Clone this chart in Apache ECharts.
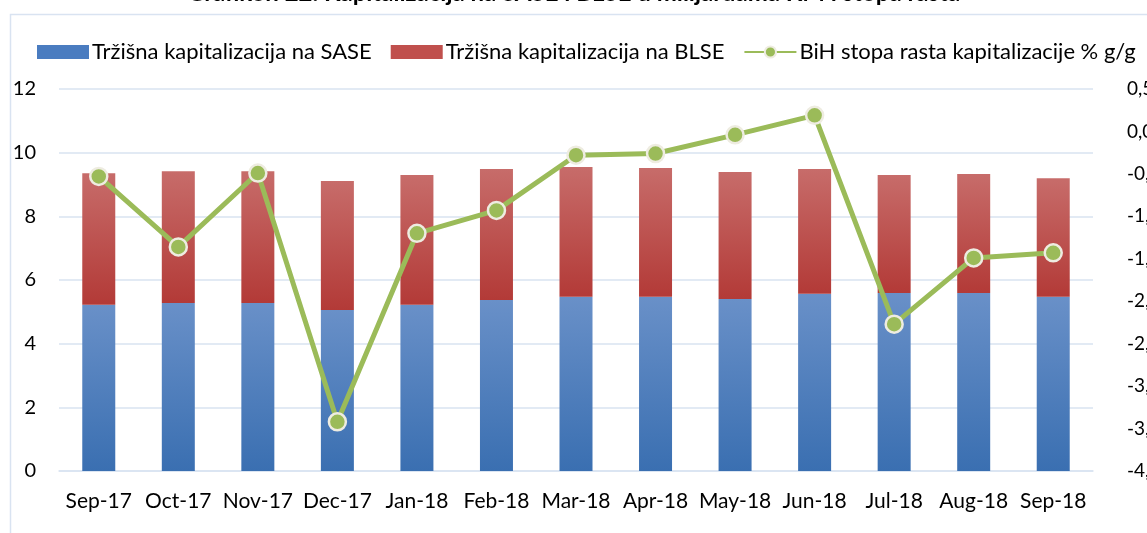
<!DOCTYPE html>
<html>
<head>
<meta charset="utf-8">
<script src="https://cdn.jsdelivr.net/npm/echarts@6/dist/echarts.min.js"></script>
<style>
html,body{margin:0;padding:0;background:#fff;}
#c{width:1147px;height:533px;}
</style>
</head>
<body>
<div id="c"></div>
<script>
const categories = ['Sep-17','Oct-17','Nov-17','Dec-17','Jan-18','Feb-18','Mar-18','Apr-18','May-18','Jun-18','Jul-18','Aug-18','Sep-18'];
const sase = [5.22,5.28,5.28,5.06,5.22,5.37,5.47,5.47,5.40,5.57,5.59,5.59,5.47];
const blse = [4.13,4.14,4.14,4.05,4.08,4.12,4.08,4.05,3.99,3.92,3.71,3.74,3.73];
const growth = [-0.53,-1.36,-0.49,-3.42,-1.20,-0.93,-0.28,-0.26,-0.04,0.19,-2.27,-1.49,-1.43];
const seriesNames = ['Tržišna kapitalizacija na SASE','Tržišna kapitalizacija na BLSE','BiH stopa rasta kapitalizacije % g/g'];
const titleText = 'Grafikon 22. Kapitalizacija na SASE i BLSE u milijardama KM i stopa rasta';

const FONT = 'Lato, "Open Sans", sans-serif';
const chart = echarts.init(document.getElementById('c'));
const grad = (top, bottom) => new echarts.graphic.LinearGradient(0,0,0,1,[{offset:0,color:top},{offset:1,color:bottom}]);

chart.setOption({
  animation:false,
  backgroundColor:'#ffffff',
  title:{
    text:titleText,
    left:'center', top:-24,
    textStyle:{fontFamily:FONT, fontSize:24, fontWeight:'bold', color:'#000'}
  },
  graphic:[{
    type:'rect', left:8, top:12, z:-1,
    shape:{width:1160, height:540},
    style:{fill:'none', stroke:'#d9e3f1', lineWidth:1.5}
  }],
  legend:{
    top:36, left:32,
    itemWidth:52, itemHeight:14, itemGap:19,
    textStyle:{fontFamily:FONT, fontSize:22, color:'#000', padding:[0,0,0,-2]},
    data:[
      {name:seriesNames[0], icon:'rect', itemStyle:{color:'#4a7cc0'}},
      {name:seriesNames[1], icon:'rect', itemStyle:{color:'#c0504d'}},
      {name:seriesNames[2]}
    ]
  },
  grid:{left:59, right:54, top:89, bottom:62, containLabel:false, outerBoundsMode:'none'},
  xAxis:{
    type:'category', data:categories,
    axisLine:{lineStyle:{color:'#d9e3f1', width:1.5}},
    axisTick:{show:false},
    axisLabel:{fontFamily:FONT, fontSize:21, color:'#000', margin:20, interval:0}
  },
  yAxis:[
    {
      type:'value', min:0, max:12, interval:2,
      axisLine:{show:false}, axisTick:{show:false},
      splitLine:{lineStyle:{color:'#d9e3f1', width:1.5}},
      axisLabel:{fontFamily:FONT, fontSize:20, color:'#000', margin:23}
    },
    {
      type:'value', min:-4, max:0.5, interval:0.5,
      axisLine:{show:false}, axisTick:{show:false}, splitLine:{show:false},
      axisLabel:{fontFamily:FONT, fontSize:19, color:'#000', margin:34, align:'left',
        formatter:v=>v.toFixed(1).replace('.',',')}
    }
  ],
  series:[
    {
      name:seriesNames[0], type:'bar', stack:'cap', data:sase, barWidth:33,
      itemStyle:{color:grad('#6990c8','#3a6fb1')}
    },
    {
      name:seriesNames[1], type:'bar', stack:'cap', data:blse, barWidth:33,
      itemStyle:{color:grad('#c76c6a','#b33a37')}
    },
    {
      name:seriesNames[2], type:'line', yAxisIndex:1, data:growth,
      symbol:'circle', symbolSize:17,
      lineStyle:{color:'#9bbb59', width:5},
      itemStyle:{color:'#9bbb59', borderColor:'#eeece1', borderWidth:2.5},
      z:5
    }
  ]
});
</script>
</body>
</html>
